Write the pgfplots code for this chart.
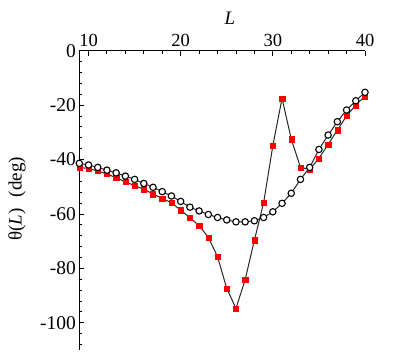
\documentclass[border=0pt]{standalone}
\usepackage{pgfplots}
\pgfplotsset{compat=1.18}
\usepackage{fontspec}
\setmainfont{Liberation Serif}
\pgfplotstableread{
L th
9 -42.9
10 -43.3
11 -44.2
12 -45.3
13 -46.7
14 -48.2
15 -49.6
16 -50.9
17 -52.7
18 -54.3
19 -55.9
20 -58.6
21 -61.4
22 -64.3
23 -68.6
24 -75.7
25 -87.4
26 -94.7
27 -84.1
28 -69.6
29 -55.9
30 -34.9
31 -17.5
32 -32.5
33 -42.9
34 -43.6
35 -39.6
36 -34.4
37 -29.2
38 -24.0
39 -20.0
40 -16.7
}\tabred
\pgfplotstableread{
L th
9 -41.4
10 -42.0
11 -42.9
12 -43.9
13 -44.9
14 -46.1
15 -47.3
16 -48.8
17 -50.2
18 -51.8
19 -53.4
20 -55.4
21 -57.5
22 -58.9
23 -60.2
24 -61.3
25 -62.2
26 -62.9
27 -62.9
28 -62.5
29 -61.3
30 -59.2
31 -56.1
32 -52.4
33 -47.3
34 -42.9
35 -36.3
36 -31.0
37 -26.1
38 -21.8
39 -18.4
40 -15.3
}\tabcirc
\begin{document}
\begin{tikzpicture}
\useasboundingbox (-79.3pt,-13pt) rectangle (334.7pt,350pt);
\begin{axis}[
  at={(0,0)}, anchor=south west,
  scale only axis,
  width=285.7pt, height=299.3pt,
  xmin=9, xmax=40, ymin=-110, ymax=0,
  axis x line*=top, axis y line*=left,
  axis line style={line width=1.2pt},
  tick align=inside,
  xtick={10,20,30,40},
  ytick={-100,-80,-60,-40,-20,0},
  yticklabels={-100,-80,-60,-40,-20,0},
  minor xtick={12,14,16,18,22,24,26,28,32,34,36,38},
  minor ytick={-108,-104,-96,-92,-88,-84,-76,-72,-68,-64,-56,-52,-48,-44,-36,-32,-28,-24,-16,-12,-8,-4},
  major tick length=5pt,
  minor tick length=3pt,
  tick style={line width=0.9pt, black},
  /pgf/number format/assume math mode=true,
  xticklabel style={font=\fontsize{18.5}{22}\selectfont},
  yticklabel style={font=\fontsize{19.5}{22}\selectfont},
  xlabel={\textit{L}},
  xlabel style={font=\fontsize{19}{22}\selectfont, at={(axis description cs:0.527,1.109)}, anchor=center},
  ylabel={θ(\textit{L})\hspace{0.6em}(deg)},
  ylabel style={font=\fontsize{19}{22}\selectfont, at={(axis description cs:-0.218,0.505)}, anchor=center, rotate=0},
  clip=false,
]
\addplot[line width=1pt, black!85, mark=square*, mark size=2.6pt,
  mark options={fill=red, draw=red, line width=0.3pt}] table[x=L,y=th] {\tabred};
\addplot[line width=1pt, black!85, mark=*, mark size=3.2pt,
  mark options={fill=white, draw=black, line width=1.1pt}] table[x=L,y=th] {\tabcirc};
\end{axis}
\end{tikzpicture}
\end{document}
